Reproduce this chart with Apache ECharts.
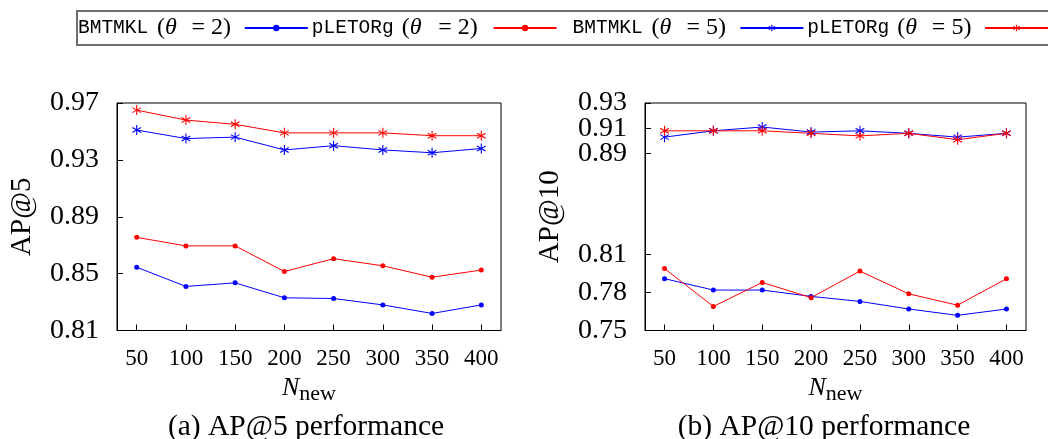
<!DOCTYPE html>
<html><head><meta charset="utf-8">
<script src="https://cdn.jsdelivr.net/npm/echarts@6/dist/echarts.min.js"></script>
<style>html,body{margin:0;padding:0;background:#fff}#c{width:1048px;height:439px}</style>
</head><body><div id="c"></div>
<script>
// ---- data ----
const nNew = [50, 100, 150, 200, 250, 300, 350, 400];
const seriesNames = ['BMTMKL (θ = 2)', 'pLETORg (θ = 2)', 'BMTMKL (θ = 5)', 'pLETORg (θ = 5)'];
// AP@5
const ap5_bmtmkl_t2 = [0.8545, 0.8410, 0.8435, 0.8330, 0.8325, 0.8280, 0.8220, 0.8280];
const ap5_pletorg_t2 = [0.8755, 0.8695, 0.8695, 0.8515, 0.8605, 0.8555, 0.8475, 0.8525];
const ap5_bmtmkl_t5 = [0.951, 0.945, 0.946, 0.937, 0.940, 0.937, 0.935, 0.938];
const ap5_pletorg_t5 = [0.965, 0.958, 0.955, 0.949, 0.949, 0.949, 0.947, 0.947];
// AP@10
const ap10_bmtmkl_t2 = [0.791, 0.782, 0.782, 0.777, 0.773, 0.767, 0.762, 0.767];
const ap10_pletorg_t2 = [0.799, 0.769, 0.788, 0.776, 0.797, 0.779, 0.770, 0.791];
const ap10_bmtmkl_t5 = [0.903, 0.908, 0.911, 0.907, 0.908, 0.906, 0.903, 0.906];
const ap10_pletorg_t5 = [0.908, 0.908, 0.908, 0.906, 0.904, 0.906, 0.901, 0.906];
// ticks
const xTicks = [50, 100, 150, 200, 250, 300, 350, 400];
const ap5Ticks = [0.81, 0.85, 0.89, 0.93, 0.97];
const ap10Ticks = [0.75, 0.78, 0.81, 0.89, 0.93];   // main AP@10 ticks
const ap10TicksExtra = [0.91];                       // closely spaced tick, drawn on a twin axis
const captions = ['(a) AP@5 performance', '(b) AP@10 performance'];
const yNames = ['AP@5', 'AP@10'];

// ---- styling ----
const SERIF = 'Liberation Serif';
const MONO = 'Liberation Mono';
const BLUE = '#0000ff', RED = '#ff0000';
const ASTER = 'path://M0,-10L0,10M-8.66,-5L8.66,5M-8.66,5L8.66,-5';
const styles = [
  {color: BLUE, symbol: 'circle', size: 5, bw: 0},
  {color: RED, symbol: 'circle', size: 5, bw: 0},
  {color: BLUE, symbol: ASTER, size: 10, bw: 1.1},
  {color: RED, symbol: ASTER, size: 10, bw: 1.1}
];
const ap5Data = [ap5_bmtmkl_t2, ap5_pletorg_t2, ap5_bmtmkl_t5, ap5_pletorg_t5];
const ap10Data = [ap10_bmtmkl_t2, ap10_pletorg_t2, ap10_bmtmkl_t5, ap10_pletorg_t5];

function pairs(vals) { return nNew.map((x, i) => [x, vals[i]]); }

const series = [];
[ap5Data, ap10Data].forEach((set, g) => {
  set.forEach((vals, i) => {
    const s = styles[i];
    series.push({
      name: seriesNames[i], type: 'line', xAxisIndex: g, yAxisIndex: g,
      data: pairs(vals), symbol: s.symbol, symbolSize: s.size, symbolKeepAspect: true,
      showSymbol: true, animation: false,
      lineStyle: {color: s.color, width: 1},
      itemStyle: {color: s.color, borderColor: s.color, borderWidth: s.bw}
    });
  });
});

// legend rich text
const ttW = [79, 90, 79, 90];
const ttPadL = [0, 0, 12, 0];
const eW = [63, 67, 64, 63];
const rich = {
  p: {fontFamily: SERIF, fontSize: 24, lineHeight: 34, color: '#000'},
  it: {fontFamily: SERIF, fontStyle: 'italic', fontSize: 24, lineHeight: 34, color: '#000'}
};
for (let i = 0; i < 4; i++) {
  rich['t' + i] = {fontFamily: MONO, fontSize: 19.5, lineHeight: 34, width: ttW[i], align: 'left', padding: [0, 0, 0, ttPadL[i]], color: '#000'};
  rich['e' + i] = {fontFamily: SERIF, fontSize: 24, lineHeight: 34, width: eW[i], align: 'left', color: '#000'};
}

function xAxis(g) {
  return {
    type: 'value', gridIndex: g, min: 30, max: 420,
    name: '{n|N}{s|new}', nameLocation: 'middle', nameGap: 39,
    nameTextStyle: {rich: {
      n: {fontFamily: SERIF, fontStyle: 'italic', fontSize: 26, lineHeight: 30, verticalAlign: 'top', color: '#000'},
      s: {fontFamily: SERIF, fontSize: 22, lineHeight: 8, verticalAlign: 'bottom', color: '#000'}
    }},
    axisLine: {show: true, lineStyle: {color: '#000', width: 1}},
    axisTick: {show: true, inside: true, length: 6, customValues: xTicks, lineStyle: {color: '#000'}},
    axisLabel: {customValues: xTicks, margin: 17, fontFamily: SERIF, fontSize: 23, lineHeight: 22, color: '#000',
      showMinLabel: true, showMaxLabel: true, hideOverlap: false},
    splitLine: {show: false}
  };
}
function yAxis(g, min, max, ticks, withName) {
  return {
    type: 'value', gridIndex: g, min: min, max: max, position: 'left',
    name: withName ? yNames[g] : '', nameLocation: 'middle', nameGap: 80,
    nameTextStyle: {fontFamily: SERIF, fontSize: 29, color: '#000'},
    axisLine: {show: withName, lineStyle: {color: '#000', width: 1}},
    axisTick: {show: true, inside: true, length: 6, customValues: ticks, lineStyle: {color: '#000'}},
    axisLabel: {customValues: ticks, margin: 18, fontFamily: SERIF, fontSize: 28, lineHeight: 18, color: '#000',
      showMinLabel: true, showMaxLabel: true, hideOverlap: false,
      formatter: v => Number(v).toFixed(2)},
    splitLine: {show: false}
  };
}

const option = {
  backgroundColor: '#fff',
  animation: false,
  legend: {
    data: seriesNames.map((n, i) => ({name: n, itemStyle: {borderWidth: styles[i].bw}})),
    left: 77, top: 11, width: 1300,
    align: 'right', itemGap: 3, itemWidth: 63, itemHeight: 8,
    padding: [0, 20, 0, 1],
    borderColor: '#707070', borderWidth: 2, backgroundColor: '#fff',
    selectedMode: false,
    formatter: function (name) {
      const i = seriesNames.indexOf(name);
      const m = name.match(/^(\S+) \(θ( = \d\))$/);
      return '{t' + i + '|' + m[1] + '}{p|(}{it|θ}{e' + i + '|' + m[2] + '}';
    },
    textStyle: {rich: rich, lineHeight: 34}
  },
  grid: [
    {left: 117, top: 103, width: 384, height: 227.5, show: true, borderColor: '#000', borderWidth: 1, containLabel: false},
    {left: 645, top: 103, width: 381, height: 227.5, show: true, borderColor: '#000', borderWidth: 1, containLabel: false}
  ],
  xAxis: [xAxis(0), xAxis(1)],
  yAxis: [
    yAxis(0, 0.81, 0.97, ap5Ticks, true),
    yAxis(1, 0.75, 0.93, ap10Ticks, true),
    yAxis(1, 0.75, 0.93, ap10TicksExtra, false)
  ],
  series: series,
  graphic: [
    {type: 'text', x: 306, y: 427, style: {text: captions[0], fontFamily: SERIF, fontSize: 29.5, fill: '#000', textAlign: 'center', textVerticalAlign: 'middle'}},
    {type: 'text', x: 824, y: 427, style: {text: captions[1], fontFamily: SERIF, fontSize: 29.5, fill: '#000', textAlign: 'center', textVerticalAlign: 'middle'}}
  ]
};
const chart = echarts.init(document.getElementById('c'), null, {renderer: 'canvas'});
chart.setOption(option);
</script></body></html>
